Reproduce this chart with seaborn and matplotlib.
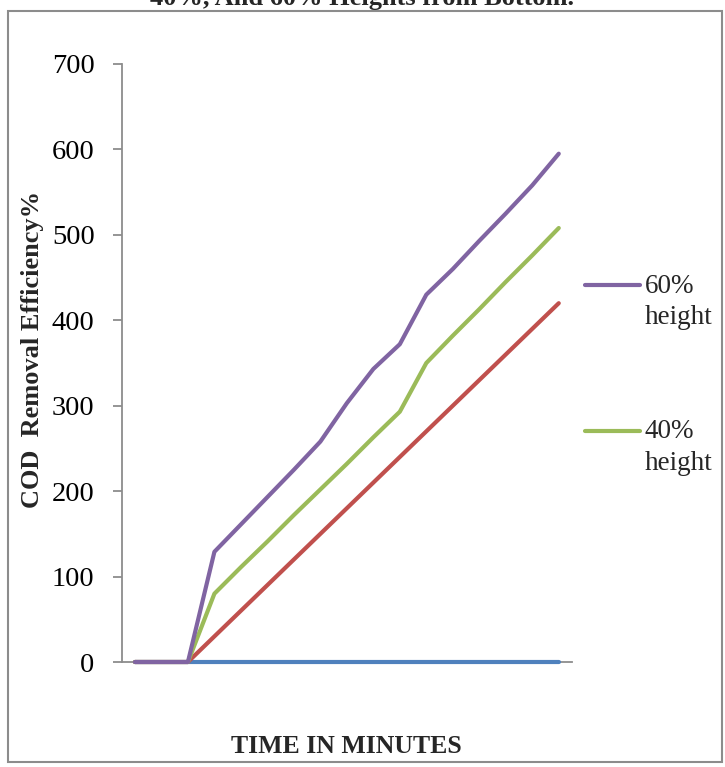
import numpy as np
import pandas as pd
import matplotlib
matplotlib.use("Agg")
import matplotlib.pyplot as plt
from matplotlib.patches import Rectangle
from matplotlib.legend_handler import HandlerLine2D
import seaborn as sns

# ---- data ----
time_points = [1, 2, 3, 4, 5, 6, 7, 8, 9, 10, 11, 12, 13, 14, 15, 16, 17]
series_blue = [0, 0, 0, 0, 0, 0, 0, 0, 0, 0, 0, 0, 0, 0, 0, 0, 0]
series_red = [0, 0, 0, 30, 60, 90, 120, 150, 180, 210, 240, 270, 300, 330, 360, 390, 420]
height_40 = [0, 0, 0, 80, 111, 141, 172, 202, 232, 263, 293, 350, 382, 413, 445, 476, 508]
height_60 = [0, 0, 0, 129, 161, 193, 225, 258, 303, 343, 372, 430, 460, 493, 525, 558, 595]
y_ticks = [0, 100, 200, 300, 400, 500, 600, 700]

title_text = "40%, And 60% Heights from Bottom."
y_label = "COD  Removal Efficiency%"
x_label = "TIME IN MINUTES"
label_60 = "60%\nheight"
label_40 = "40%\nheight"

sns.set_theme(style="white")
plt.rcParams['font.family'] = ['Liberation Serif', 'DejaVu Serif']

W, H = 725, 767
fig = plt.figure(figsize=(W / 100, H / 100), dpi=100)
ax = fig.add_axes([121.7 / W, (H - 662) / H, (572 - 121.7) / W, (662 - 64) / H])

pos = list(range(len(time_points)))
df = pd.DataFrame({
    "pos": pos * 4,
    "value": series_blue + series_red + height_40 + height_60,
    "series": ["blue"] * 17 + ["red"] * 17 + ["40"] * 17 + ["60"] * 17,
})
colors = {"blue": "#4F81BD", "red": "#C0504D", "40": "#9BBB59", "60": "#8064A2"}
for key in ["blue", "red", "40", "60"]:
    sub = df[df["series"] == key]
    sns.lineplot(data=sub, x="pos", y="value", ax=ax, color=colors[key],
                 linewidth=3, solid_capstyle="round", solid_joinstyle="round",
                 legend=False, clip_on=False, zorder=3)

ax.set_xlim(-0.5, len(time_points) - 0.5)
ax.set_ylim(0, 700)
ax.set_yticks(y_ticks)
ax.set_yticklabels([str(v) for v in y_ticks], fontsize=20.5)
ax.set_xticks([])
ax.set_xlabel("")
ax.set_ylabel("")
for side in ["top", "right"]:
    ax.spines[side].set_visible(False)
for side in ["left", "bottom"]:
    ax.spines[side].set_color("#8c8c8c")
    ax.spines[side].set_linewidth(1.3)
ax.tick_params(axis="y", which="both", left=True, direction="out", length=6.5,
               width=1.3, color="#8c8c8c", pad=13, labelcolor="black")
ax.grid(False)

# legend (only two entries shown in the reference)
class FirstLineHandler(HandlerLine2D):
    def create_artists(self, legend, orig_handle, xdescent, ydescent, width,
                       height, fontsize, trans):
        arts = super().create_artists(legend, orig_handle, xdescent, ydescent,
                                      width, height, fontsize, trans)
        for a in arts:
            a.set_ydata(np.asarray(a.get_ydata()) + 0.62 * fontsize)
        return arts

lines = ax.get_lines()
h60 = lines[3]
h40 = lines[2]
leg = fig.legend([h60, h40], [label_60, label_40],
                 loc="upper left", bbox_to_anchor=(585 / W, 1 - 274 / H),
                 frameon=False, fontsize=19.5, borderpad=0, borderaxespad=0,
                 handlelength=2.03, handletextpad=0.18, labelspacing=3.3,
                 handler_map={h60: FirstLineHandler(), h40: FirstLineHandler()})
for t in leg.get_texts():
    t.set_linespacing(1.32)

# axis labels and title
fig.text(33 / W, 1 - 349 / H, y_label, rotation=90, ha="center", va="center",
         fontsize=19, fontweight="bold")
fig.text(346 / W, 1 - 753 / H, x_label, ha="center", va="baseline",
         fontsize=18.5, fontweight="bold")
fig.text(362 / W, 1 - 5 / H, title_text, ha="center", va="baseline",
         fontsize=19, fontweight="bold")

# outer frame
fig.patches.append(Rectangle((8 / W, (H - 762) / H), 714 / W, 751 / H,
                             transform=fig.transFigure, fill=False,
                             edgecolor="#8c8c8c", linewidth=1.5))

fig.savefig("out.png", dpi=100)
